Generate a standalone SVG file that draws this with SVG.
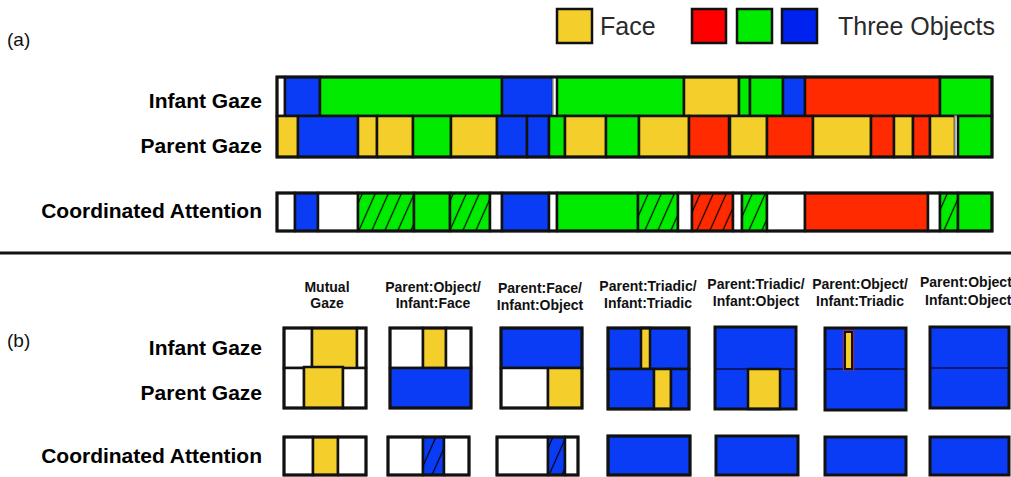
<svg xmlns="http://www.w3.org/2000/svg" width="1011" height="477" viewBox="0 0 1011 477">
<defs>
<pattern id="hatch" patternUnits="userSpaceOnUse" width="13" height="13" patternTransform="skewX(-24)">
<path d="M6.5 -1V14" stroke="#000" stroke-width="1.3"/>
</pattern>
<style>
.s{stroke:#111;stroke-width:2.5}
.w{fill:#fff}
.b{fill:#0a3cf5}
.g{fill:#00eb00}
.r{fill:#ff2a00}
.y{fill:#f4cf2c}
.o{fill:none;stroke:#111;stroke-width:3}
.lbl{font-family:"Liberation Sans",Arial,sans-serif;font-weight:bold;font-size:21px;fill:#000;text-anchor:end}
.hd{font-family:"Liberation Sans",Arial,sans-serif;font-weight:bold;font-size:14px;fill:#111;text-anchor:middle}
.tag{font-family:"Liberation Sans",Arial,sans-serif;font-size:19px;fill:#111}
.leg{font-family:"Liberation Sans",Arial,sans-serif;font-size:25px;fill:#2a2a2a}
.mid{stroke:#0a1a70;stroke-width:2;fill:none}
</style>
</defs>
<rect width="1011" height="477" fill="#fff"/>

<g id="legend">
<rect x="557" y="9" width="35" height="34" class="s y"/>
<text x="600" y="35" class="leg">Face</text>
<rect x="692" y="9" width="34" height="34" class="s" fill="#ff0000"/>
<rect x="737" y="9" width="35" height="34" class="s g"/>
<rect x="782" y="9" width="35" height="34" class="s" fill="#0022ee"/>
<text x="838" y="35" class="leg">Three Objects</text>
</g>

<text x="7" y="46" class="tag">(a)</text>
<text x="7" y="347" class="tag">(b)</text>

<g id="labels-a">
<text x="262" y="108" class="lbl">Infant Gaze</text>
<text x="262" y="153" class="lbl">Parent Gaze</text>
<text x="262" y="218" class="lbl">Coordinated Attention</text>
</g>

<g id="infant-gaze-a">
<rect x="277" y="77" width="8" height="39" class="s w"/>
<rect x="285" y="77" width="35" height="39" class="s b"/>
<rect x="320" y="77" width="182" height="39" class="s g"/>
<rect x="502" y="77" width="51" height="39" class="s b"/>
<rect x="553" y="77" width="4" height="39" fill="#fff" stroke="#999" stroke-width="1.5"/>
<rect x="557" y="77" width="127" height="39" class="s g"/>
<rect x="684" y="77" width="55" height="39" class="s y"/>
<rect x="739" y="77" width="11" height="39" class="s g"/>
<rect x="750" y="77" width="33" height="39" class="s g"/>
<rect x="783" y="77" width="22" height="39" class="s b"/>
<rect x="805" y="77" width="135" height="39" class="s r"/>
<rect x="940" y="77" width="52" height="39" class="s g"/>
</g>

<g id="parent-gaze-a">
<rect x="277" y="116" width="21" height="41" class="s y"/>
<rect x="298" y="116" width="60" height="41" class="s b"/>
<rect x="358" y="116" width="19" height="41" class="s y"/>
<rect x="377" y="116" width="36" height="41" class="s y"/>
<rect x="413" y="116" width="38" height="41" class="s g"/>
<rect x="451" y="116" width="46" height="41" class="s y"/>
<rect x="497" y="116" width="30" height="41" class="s b"/>
<rect x="527" y="116" width="22" height="41" class="s b"/>
<rect x="549" y="116" width="16" height="41" class="s g"/>
<rect x="565" y="116" width="41" height="41" class="s y"/>
<rect x="606" y="116" width="33" height="41" class="s g"/>
<rect x="639" y="116" width="50" height="41" class="s y"/>
<rect x="689" y="116" width="40" height="41" class="s r"/>
<rect x="730" y="116" width="37" height="41" class="s y"/>
<rect x="767" y="116" width="46" height="41" class="s r"/>
<rect x="813" y="116" width="58" height="41" class="s y"/>
<rect x="871" y="116" width="23" height="41" class="s r"/>
<rect x="894" y="116" width="19" height="41" class="s y"/>
<rect x="913" y="116" width="17" height="41" class="s r"/>
<rect x="930" y="116" width="25" height="41" class="s y"/>
<rect x="955" y="116" width="3" height="41" fill="#fff" stroke="#999" stroke-width="1.5"/>
<rect x="958" y="116" width="34" height="41" class="s g"/>
<rect x="277" y="77" width="715" height="80" class="o"/>
</g>

<g id="coordinated-attention-a">
<rect x="277" y="193" width="18" height="38" class="s w"/>
<rect x="295" y="193" width="23" height="38" class="s b"/>
<rect x="318" y="193" width="40" height="38" class="s w"/>
<rect x="358" y="193" width="56" height="38" class="s g"/>
<rect x="358" y="193" width="56" height="38" fill="url(#hatch)"/>
<rect x="414" y="193" width="36" height="38" class="s g"/>
<rect x="450" y="193" width="40" height="38" class="s g"/>
<rect x="450" y="193" width="40" height="38" fill="url(#hatch)"/>
<rect x="490" y="193" width="12" height="38" class="s w"/>
<rect x="502" y="193" width="47" height="38" class="s b"/>
<rect x="549" y="193" width="8" height="38" class="s w"/>
<rect x="557" y="193" width="81" height="38" class="s g"/>
<rect x="638" y="193" width="40" height="38" class="s g"/>
<rect x="638" y="193" width="40" height="38" fill="url(#hatch)"/>
<rect x="678" y="193" width="14" height="38" class="s w"/>
<rect x="692" y="193" width="41" height="38" class="s r"/>
<rect x="692" y="193" width="41" height="38" fill="url(#hatch)"/>
<rect x="733" y="193" width="9" height="38" class="s w"/>
<rect x="742" y="193" width="25" height="38" class="s g"/>
<rect x="742" y="193" width="25" height="38" fill="url(#hatch)"/>
<rect x="767" y="193" width="38" height="38" class="s w"/>
<rect x="805" y="193" width="123" height="38" class="s r"/>
<rect x="928" y="193" width="12" height="38" class="s w"/>
<rect x="940" y="193" width="18" height="38" class="s g"/>
<rect x="940" y="193" width="18" height="38" fill="url(#hatch)"/>
<rect x="958" y="193" width="34" height="38" class="s g"/>
<rect x="277" y="193" width="715" height="38" class="o"/>
</g>

<line x1="0" y1="253" x2="1011" y2="253" stroke="#111" stroke-width="3"/>

<g id="labels-b">
<text x="262" y="355" class="lbl">Infant Gaze</text>
<text x="262" y="400" class="lbl">Parent Gaze</text>
<text x="262" y="463" class="lbl">Coordinated Attention</text>
</g>

<g id="mutual-gaze">
<text x="327" y="292" class="hd">Mutual</text>
<text x="327" y="308" class="hd">Gaze</text>
<rect x="284" y="328" width="28" height="40" class="s w"/>
<rect x="312" y="328" width="45" height="41" class="s y"/>
<rect x="357" y="328" width="9" height="40" class="s w"/>
<rect x="284" y="368" width="20" height="40" class="s w"/>
<rect x="304" y="367" width="39" height="41" class="s y"/>
<rect x="343" y="368" width="23" height="40" class="s w"/>
<rect x="284" y="328" width="82" height="80" class="o"/>
<rect x="284" y="437" width="29" height="38" class="s w"/>
<rect x="313" y="437" width="25" height="38" class="s y"/>
<rect x="338" y="437" width="28" height="38" class="s w"/>
<rect x="284" y="437" width="82" height="38" class="o"/>
</g>

<g id="parent-object-infant-face">
<text x="433" y="292" class="hd">Parent:Object/</text>
<text x="433" y="308" class="hd">Infant:Face</text>
<rect x="390" y="328" width="33" height="40" class="s w"/>
<rect x="423" y="328" width="23" height="40" class="s y"/>
<rect x="446" y="328" width="25" height="40" class="s w"/>
<rect x="390" y="368" width="81" height="40" class="s b"/>
<rect x="390" y="328" width="81" height="80" class="o"/>
<rect x="388" y="437" width="35" height="38" class="s w"/>
<rect x="423" y="437" width="21" height="38" class="s b"/>
<rect x="423" y="437" width="21" height="38" fill="url(#hatch)"/>
<rect x="444" y="437" width="25" height="38" class="s w"/>
<rect x="388" y="437" width="81" height="38" class="o"/>
</g>

<g id="parent-face-infant-object">
<text x="540" y="293" class="hd">Parent:Face/</text>
<text x="540" y="310" class="hd">Infant:Object</text>
<rect x="501" y="328" width="81" height="40" class="s b"/>
<rect x="501" y="368" width="47" height="40" class="s w"/>
<rect x="548" y="368" width="34" height="40" class="s y"/>
<rect x="501" y="328" width="81" height="80" class="o"/>
<rect x="497" y="437" width="51" height="38" class="s w"/>
<rect x="548" y="437" width="17" height="38" class="s b"/>
<rect x="548" y="437" width="17" height="38" fill="url(#hatch)"/>
<rect x="565" y="437" width="13" height="38" class="s w"/>
<rect x="497" y="437" width="81" height="38" class="o"/>
</g>

<g id="parent-triadic-infant-triadic">
<text x="648" y="291" class="hd">Parent:Triadic/</text>
<text x="648" y="308" class="hd">Infant:Triadic</text>
<rect x="608" y="328" width="81" height="41" class="s b"/>
<rect x="641" y="328" width="9" height="41" class="s y"/>
<rect x="608" y="369" width="46" height="40" class="s b"/>
<rect x="654" y="369" width="17" height="40" class="s y"/>
<rect x="671" y="369" width="18" height="40" class="s b"/>
<rect x="608" y="328" width="81" height="81" class="o"/>
<rect x="608" y="436" width="82" height="39" class="s b"/>
<rect x="608" y="436" width="82" height="39" class="o"/>
</g>

<g id="parent-triadic-infant-object">
<text x="756" y="289" class="hd">Parent:Triadic/</text>
<text x="756" y="306" class="hd">Infant:Object</text>
<rect x="715" y="327" width="81" height="82" class="b"/>
<line x1="715" y1="369" x2="796" y2="369" class="mid"/>
<rect x="748" y="369" width="32" height="40" class="s y"/>
<rect x="715" y="327" width="81" height="82" class="o"/>
<rect x="716" y="436" width="82" height="39" class="b"/>
<rect x="716" y="436" width="82" height="39" class="o"/>
</g>

<g id="parent-object-infant-triadic">
<text x="860" y="289" class="hd">Parent:Object/</text>
<text x="860" y="306" class="hd">Infant:Triadic</text>
<rect x="825" y="328" width="81" height="82" class="b"/>
<line x1="825" y1="369" x2="906" y2="369" class="mid"/>
<rect x="843.5" y="330" width="10" height="40" fill="none" stroke="#8a2a6a" stroke-width="1.5"/>
<rect x="845" y="332" width="7" height="37" class="y" stroke="#111" stroke-width="2"/>
<rect x="825" y="328" width="81" height="82" class="o"/>
<rect x="825" y="437" width="81" height="38" class="b"/>
<rect x="825" y="437" width="81" height="38" class="o"/>
</g>

<g id="parent-object-infant-object">
<text x="920" y="287" class="hd" style="text-anchor:start">Parent:Object/</text>
<text x="925" y="305" class="hd" style="text-anchor:start">Infant:Object</text>
<rect x="930" y="327" width="79" height="81" class="b"/>
<line x1="930" y1="368" x2="1009" y2="368" class="mid"/>
<rect x="930" y="327" width="79" height="81" class="o"/>
<rect x="930" y="437" width="79" height="38" class="b"/>
<rect x="930" y="437" width="79" height="38" class="o"/>
</g>

<g id="connectors"></g>
</svg>
